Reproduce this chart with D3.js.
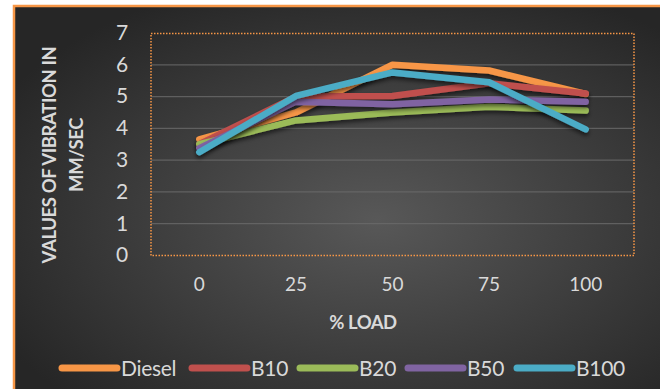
<!DOCTYPE html>
<html><head><meta charset="utf-8">
<script src="https://cdn.jsdelivr.net/npm/d3@7"></script>
<style>html,body{margin:0;padding:0;background:#fff;overflow:hidden}</style>
</head><body>
<script>
const categories = ["0","25","50","75","100"];
const seriesNames = ["Diesel","B10","B20","B50","B100"];
const diesel = [3.65, 4.5, 6.0, 5.82, 5.08];
const b10 = [3.5, 5.0, 5.02, 5.42, 5.1];
const b20 = [3.5, 4.25, 4.5, 4.68, 4.56];
const b50 = [3.38, 4.84, 4.76, 4.91, 4.84];
const b100 = [3.25, 5.02, 5.76, 5.45, 3.97];
const yTicks = [0,1,2,3,4,5,6,7];
const colors = ["#f79646","#c0504d","#9bbb59","#8064a2","#4bacc6"];
const allSeries = [diesel,b10,b20,b50,b100];

const W=660,H=389;
const svg=d3.select("body").append("svg").attr("width",W).attr("height",H);
const defs=svg.append("defs");
const rg=defs.append("radialGradient").attr("id","bg").attr("cx","55%").attr("cy","55%").attr("r","65%");
rg.append("stop").attr("offset","0%").attr("stop-color","#585858");
rg.append("stop").attr("offset","100%").attr("stop-color","#262626");
const f=defs.append("filter").attr("id","sh").attr("x","-10%").attr("y","-10%").attr("width","120%").attr("height","130%");
f.append("feDropShadow").attr("dx",0).attr("dy",3).attr("stdDeviation",2).attr("flood-color","#000").attr("flood-opacity",0.55);

// frame
svg.append("rect").attr("x",14).attr("y",6).attr("width",W).attr("height",H).attr("fill","url(#bg)")
  .attr("stroke","#f79646").attr("stroke-width",2.5);

const font="Lato, 'Open Sans', sans-serif";
const x=d3.scaleBand().domain(categories).range([151,634]);
const y=d3.scaleLinear().domain([0,7]).range([255.5,33]);

// gridlines
svg.append("g").selectAll("line").data(yTicks.filter(t=>t>0&&t<7)).join("line")
  .attr("x1",151).attr("x2",634).attr("y1",d=>y(d)).attr("y2",d=>y(d))
  .attr("stroke","#6a6a6a").attr("stroke-width",1.2).attr("opacity",0.8);

// plot border dotted
svg.append("rect").attr("x",151).attr("y",33.5).attr("width",483).attr("height",222)
  .attr("fill","none").attr("stroke","#f79646").attr("stroke-width",1.5).attr("stroke-dasharray","1.5,1.5");

// y axis labels
const yAxis=d3.axisLeft(y).tickValues(yTicks).tickFormat(d3.format("d")).tickSize(0).tickPadding(0);
const ya=svg.append("g").attr("transform","translate(122,0)").call(yAxis);
ya.select(".domain").remove();
ya.selectAll("text").attr("fill","#d9d9d9").attr("font-family",font).attr("font-size",21)
  .attr("text-anchor","middle").attr("dy","0.3em");

// x axis labels
const xAxis=d3.axisBottom(x).tickSize(0).tickPadding(0);
const xa=svg.append("g").attr("transform","translate(0,277)").call(xAxis);
xa.select(".domain").remove();
xa.selectAll("text").attr("fill","#d9d9d9").attr("font-family",font).attr("font-size",19).attr("dy","0.71em");

// axis titles
svg.append("text").attr("x",363).attr("y",329).attr("text-anchor","middle").attr("fill","#d9d9d9")
  .attr("font-family",font).attr("font-weight","bold").attr("font-size",18.5).attr("letter-spacing",-0.5).text("% LOAD");
const yt=svg.append("text").attr("transform","translate(56,155) rotate(-90)").attr("text-anchor","middle")
  .attr("fill","#d9d9d9").attr("font-family",font).attr("font-weight","bold").attr("font-size",18.5).attr("letter-spacing",-0.4);
yt.append("tspan").attr("x",0).attr("dy",0).text("VALUES OF VIBRATION IN");
yt.append("tspan").attr("x",0).attr("dy","1.45em").text("MM/SEC");

// lines
const line=d3.line().x((d,i)=>x(categories[i])+x.bandwidth()/2).y(d=>y(d));
svg.append("g").selectAll("path").data(allSeries).join("path")
  .attr("d",line).attr("fill","none").attr("stroke",(d,i)=>colors[i]).attr("stroke-width",6.5)
  .attr("stroke-linejoin","round").attr("stroke-linecap","round").attr("filter","url(#sh)");

// legend
const legX=[62,192,300,408,517];
const lg=svg.append("g").selectAll("g").data(seriesNames).join("g")
  .attr("transform",(d,i)=>`translate(${legX[i]},368)`);
lg.append("line").attr("x1",0).attr("x2",55).attr("y1",0).attr("y2",0)
  .attr("stroke",(d,i)=>colors[i]).attr("stroke-width",7).attr("stroke-linecap","round");
lg.append("text").attr("x",59).attr("y",0).attr("dy","0.36em").attr("fill","#d9d9d9")
  .attr("font-family",font).attr("font-size",21).attr("letter-spacing",-0.3).text(d=>d);
</script>
</body></html>
